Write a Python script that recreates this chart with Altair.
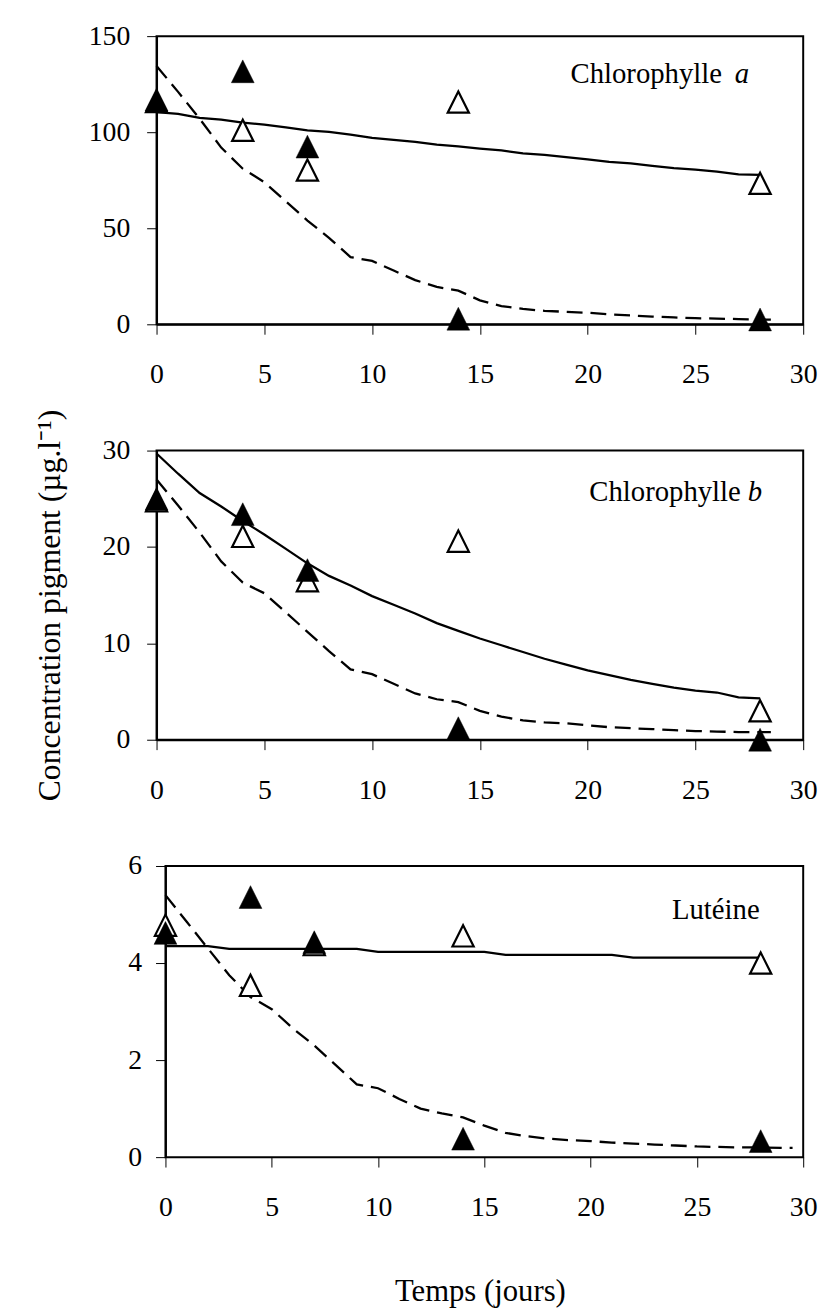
import altair as alt
import pandas as pd

FONT = "Liberation Serif"
TRI = "M-1,1L1,1L0,-1Z"

# ---------------- data ----------------
days = list(range(29))
obs_days = [0, 4, 7, 14, 28]

# Chlorophylle a
chla_solid = [110.4, 109.6, 107.5, 106.5, 105, 104, 102.5, 101, 100.2, 98.8, 97, 96,
              95, 93.5, 92.6, 91.5, 90.5, 89, 88.2, 87, 85.8, 84.5, 83.8, 82.5, 81.3,
              80.5, 79.5, 78, 77.8]
chla_dash_days = days + [28.5]
chla_dash = [134.5, 121, 107, 92, 81, 74, 64, 54, 45, 35, 33, 28, 23, 19.5, 17.5, 12.5,
             9.5, 8, 7, 6.5, 6, 5.2, 4.6, 4, 3.6, 3.2, 3, 2.7, 2.5, 2.4]
chla_open = [116, 101, 80.3, 115.7, 73.4]
chla_filled = [117, 131.7, 92.5, 2.9, 2.5]

# Chlorophylle b
chlb_solid = [29.7, 27.6, 25.6, 24.2, 22.7, 21.3, 19.8, 18.3, 17.0, 16.0, 14.9, 14.0,
              13.1, 12.1, 11.3, 10.5, 9.8, 9.1, 8.4, 7.8, 7.2, 6.7, 6.2, 5.8, 5.4, 5.1,
              4.9, 4.4, 4.3]
chlb_dash_days = days + [28.5]
chlb_dash = [27, 24.3, 21.5, 18.5, 16.3, 15.2, 13.2, 11.2, 9.2, 7.3, 6.8, 5.8, 4.8, 4.2,
             3.9, 3.0, 2.4, 2.0, 1.8, 1.7, 1.5, 1.3, 1.2, 1.1, 1.0, 0.9, 0.85, 0.8, 0.8,
             0.8]
chlb_open = [24.8, 21.1, 16.5, 20.6, 3.0]
chlb_filled = [25.0, 23.4, 17.6, 1.2, 0.0]

# Lutéine
lut_solid = [4.35, 4.35, 4.35, 4.29, 4.29, 4.29, 4.29, 4.29, 4.29, 4.29, 4.23, 4.23,
             4.23, 4.23, 4.23, 4.23, 4.17, 4.17, 4.17, 4.17, 4.17, 4.17, 4.11, 4.11,
             4.11, 4.11, 4.11, 4.11, 4.11]
lut_dash_days = days + [29, 29.5]
lut_dash = [5.4, 4.85, 4.3, 3.75, 3.3, 3.05, 2.65, 2.3, 1.9, 1.5, 1.42, 1.2, 1.0, 0.9,
            0.82, 0.65, 0.5, 0.43, 0.38, 0.35, 0.33, 0.3, 0.28, 0.26, 0.24, 0.22, 0.21,
            0.2, 0.2, 0.19, 0.19]
lut_open = [4.78, 3.54, 4.38, 4.56, 4.0]
lut_filled = [4.62, 5.36, 4.43, 0.38, 0.33]

x_ticks = [0, 5, 10, 15, 20, 25, 30]

W = 653
TICK_FS = 28


def panel(solid, dash_days, dash, open_v, filled_v, ymax, ystep, xmin, height,
          name_main, name_ital, main_x, ital_x, text_y,
          yoff=0, ylabpad=17, xdomain_line=True, xtitle=None, ytitle=None, top_space=0):
    yvals = [ystep * i for i in range(int(round(ymax / ystep)) + 1)]
    xscale = alt.Scale(domain=[xmin, 30], nice=False, zero=False)
    yscale = alt.Scale(domain=[0, ymax], nice=False)

    x_axis_kw = dict(values=x_ticks, grid=False, domain=xdomain_line, domainColor="black",
                     domainWidth=2, tickColor="black", tickSize=10, tickWidth=1,
                     labelFont=FONT, labelFontSize=TICK_FS, labelColor="black",
                     labelPadding=27, labelFlush=False)
    if xtitle:
        x_axis_kw.update(title=xtitle, titleFont=FONT, titleFontSize=31,
                         titleFontWeight="normal", titleColor="black",
                         titleBaseline="alphabetic", titleY=145)
    else:
        x_axis_kw.update(title=None)

    y_axis_kw = dict(values=yvals, grid=False, domainColor="black", domainWidth=2,
                     tickColor="black", tickSize=10, tickWidth=1, labelFont=FONT,
                     labelFontSize=TICK_FS, labelColor="black", labelPadding=ylabpad,
                     labelFlush=False, offset=yoff)
    if ytitle:
        y_axis_kw.update(title=ytitle, titleFont=FONT, titleFontSize=32,
                         titleFontWeight="normal", titleColor="black",
                         titleAngle=270, titleAlign="center", titleBaseline="middle",
                         titleX=-108, titleY=156)
    else:
        y_axis_kw.update(title=None)

    X = alt.X("day:Q", scale=xscale, axis=alt.Axis(**x_axis_kw))
    Y = alt.Y("value:Q", scale=yscale, axis=alt.Axis(**y_axis_kw))

    solid_df = pd.DataFrame({"day": days, "value": solid})
    dash_df = pd.DataFrame({"day": dash_days, "value": dash})
    open_df = pd.DataFrame({"day": obs_days, "value": open_v})
    filled_df = pd.DataFrame({"day": obs_days, "value": filled_v})

    frame = alt.Chart(pd.DataFrame({"k": [0]})).mark_rect(
        fill="white", fillOpacity=0, stroke="black", strokeWidth=2
    ).encode(x=alt.datum(0), x2=alt.datum(30), y=alt.datum(0), y2=alt.datum(ymax))

    solid_l = alt.Chart(solid_df).mark_line(color="black", strokeWidth=2.3).encode(x=X, y=Y)
    dash_l = alt.Chart(dash_df).mark_line(color="black", strokeWidth=2.3,
                                          strokeDash=[16, 8]).encode(x=X, y=Y)
    open_p = alt.Chart(open_df).mark_point(
        shape=TRI, size=460, filled=True, fill="white", stroke="black",
        strokeWidth=2.2, opacity=1
    ).encode(x=X, y=Y)
    filled_p = alt.Chart(filled_df).mark_point(
        shape=TRI, size=529, filled=True, fill="black", stroke="black",
        strokeWidth=0.5, opacity=1
    ).encode(x=X, y=Y)

    layers = [frame, solid_l, dash_l, open_p, filled_p]
    t1 = alt.Chart(pd.DataFrame({"t": [name_main]})).mark_text(
        font=FONT, fontSize=29, color="black", align="right", baseline="alphabetic"
    ).encode(text="t:N", x=alt.value(main_x), y=alt.value(text_y))
    layers.append(t1)
    if name_ital:
        t2 = alt.Chart(pd.DataFrame({"t": [name_ital]})).mark_text(
            font=FONT, fontSize=29, fontStyle="italic", color="black", align="left",
            baseline="alphabetic"
        ).encode(text="t:N", x=alt.value(ital_x), y=alt.value(text_y))
        layers.append(t2)
    if top_space:
        # invisible spacer above the plot so that every panel has the same top margin
        spacer = alt.Chart(pd.DataFrame({"k": [0]})).mark_rule(
            opacity=0, strokeOpacity=0
        ).encode(x=alt.value(0), y=alt.value(-top_space), y2=alt.value(0))
        layers.append(spacer)

    return alt.layer(*layers).properties(width=W, height=height)


p1 = panel(chla_solid, chla_dash_days, chla_dash, chla_open, chla_filled, 150, 50, 0, 291,
           "Chlorophylle", "a", 571, 584, 47)
p2 = panel(chlb_solid, chlb_dash_days, chlb_dash, chlb_open, chlb_filled, 30, 10, 0, 292,
           "Chlorophylle", "b", 590, 597, 51,
           ytitle="Concentration pigment (µg.l\u207b\u00b9)", top_space=50)
p3 = panel(lut_solid, lut_dash_days, lut_dash, lut_open, lut_filled, 6, 2, -0.42, 294,
           "Lutéine", None, 609, 0, 54, yoff=-9, ylabpad=14, xdomain_line=False,
           xtitle="Temps (jours)", top_space=50)

chart = alt.vconcat(p1, p2, p3, spacing=10.5).properties(
    padding={"top": 7, "left": 25, "right": 5, "bottom": 2},
    background="white",
).configure_view(stroke="transparent")

chart.save("out.html", embed_options={"renderer": "svg", "actions": False})
